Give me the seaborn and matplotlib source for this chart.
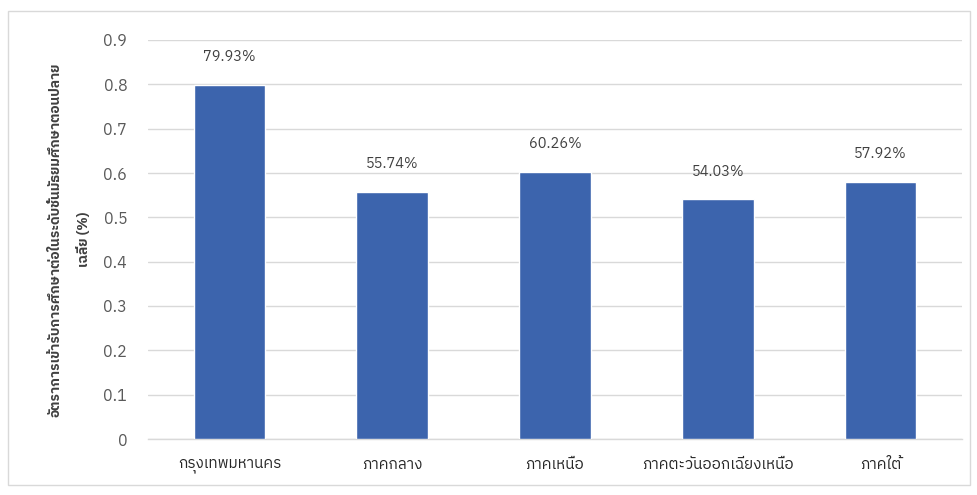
import matplotlib
matplotlib.use("Agg")
import matplotlib.pyplot as plt
from matplotlib import font_manager
from matplotlib.ft2font import FT2Font
from matplotlib.patches import Rectangle
import seaborn as sns
import pandas as pd

regions = ["กรุงเทพมหานคร", "ภาคกลาง", "ภาคเหนือ", "ภาคตะวันออกเฉียงเหนือ", "ภาคใต้"]
rates = [0.7993, 0.5574, 0.6026, 0.5403, 0.5792]
rate_labels = ["79.93%", "55.74%", "60.26%", "54.03%", "57.92%"]
y_ticks = [0, 0.1, 0.2, 0.3, 0.4, 0.5, 0.6, 0.7, 0.8, 0.9]
y_title = "อัตราการเข้ารับการศึกษาต่อในระดับชั้นมัธยมศึกษาตอนปลาย\nเฉลี่ย (%)"


def find_thai_family():
    preferred = []
    others = []
    for f in font_manager.fontManager.ttflist:
        try:
            cmap = FT2Font(f.fname).get_charmap()
        except Exception:
            continue
        if 0x0E01 in cmap and 0x0E40 in cmap:
            if "Thai" in f.name or "Tahoma" in f.name:
                preferred.append(f.name)
            else:
                others.append(f.name)
    found = preferred + others
    return found[0] if found else None


sns.set_theme(style="white")
thai = find_thai_family()
families = ([thai] if thai else []) + ["DejaVu Sans"]
plt.rcParams["font.family"] = families

df = pd.DataFrame({"region": regions, "rate": rates})

fig = plt.figure(figsize=(9.78, 4.95), dpi=100)
ax = fig.add_axes([148 / 978, 1 - 439 / 495, 814 / 978, 399 / 495])

sns.barplot(data=df, x="region", y="rate", color="#3C64AD", saturation=1,
            width=0.44, ax=ax, zorder=3)

ax.set_ylim(0, 0.9)
ax.set_yticks(y_ticks)
ax.set_yticklabels([f"{t:g}" for t in y_ticks])
ax.yaxis.grid(True, color="#D9D9D9", linewidth=1.0, zorder=0)
ax.set_axisbelow(True)
for side in ["top", "right", "left"]:
    ax.spines[side].set_visible(False)
ax.spines["bottom"].set_color("#D9D9D9")
ax.spines["bottom"].set_linewidth(1.0)
ax.tick_params(axis="y", length=0, pad=15, labelsize=11.5, labelcolor="#595959")
ax.tick_params(axis="x", length=0, pad=14, labelsize=11, labelcolor="#262626")
ax.set_xlabel("")
ax.set_ylabel(y_title, fontsize=9.9, fontweight="bold", color="#404040",
              labelpad=9, linespacing=2.3)

for i, (v, lab) in enumerate(zip(rates, rate_labels)):
    ax.annotate(lab, xy=(i, v), xytext=(0, 20), textcoords="offset points",
                ha="center", va="center", fontsize=10.5, color="#404040")

fig.patches.append(Rectangle((8 / 978, 1 - 485 / 495), 962 / 978, 474 / 495,
                             transform=fig.transFigure, fill=False,
                             edgecolor="#D9D9D9", linewidth=1.0))

fig.savefig("out.png", dpi=100)
